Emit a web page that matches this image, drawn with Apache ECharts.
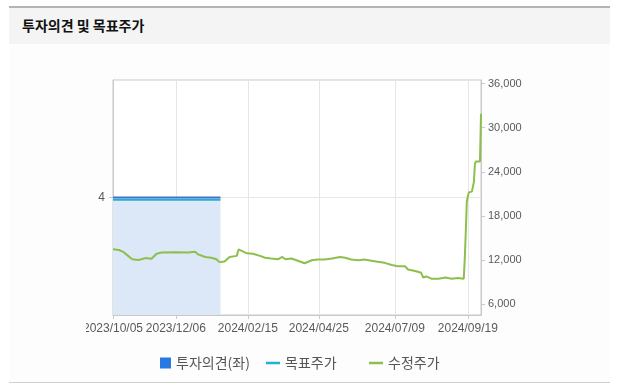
<!DOCTYPE html>
<html>
<head>
<meta charset="utf-8">
<script src="https://cdn.jsdelivr.net/npm/echarts@6/dist/echarts.min.js"></script>
<style>
  html, body { margin: 0; padding: 0; background: #ffffff; width: 625px; height: 389px; overflow: hidden; }
  #topline { position: absolute; left: 9px; top: 6px; width: 601px; height: 2px; background: #b3b3b3; }
  #header { position: absolute; left: 9px; top: 8px; width: 601px; height: 36px; background: #f4f4f4; }
  #title { position: absolute; left: 22px; top: 16px; font: bold 14px "Noto Sans CJK KR", sans-serif; color: #111; line-height: 18px; }
  #body { position: absolute; left: 9px; top: 44px; width: 601px; height: 338px; background: #fdfdfd; }
  #bottomline { position: absolute; left: 9px; top: 382px; width: 601px; height: 1px; background: #cfcfcf; }
  #chart { position: absolute; left: 86px; top: 50px; width: 474px; height: 330px; }
</style>
</head>
<body>
<div id="topline"></div>
<div id="header"></div>
<div id="title">투자의견 및 목표주가</div>
<div id="body"></div>
<div id="bottomline"></div>
<div id="chart"></div>
<script>
// ---- data ----
const xTickDates = ['2023-10-05', '2023-12-06', '2024-02-15', '2024-04-25', '2024-07-09', '2024-09-19'];
const xRange = ['2023-10-05', '2024-10-02'];
const rightTicks = [6000, 12000, 18000, 24000, 30000, 36000];
const leftTicks = [4];

const opinionDates = ['2023-10-05', '2024-01-19'];
const opinionValues = [4, 4];

const targetDates = ['2023-10-05', '2024-01-19'];
const targetValues = [20200, 20200];

const priceDates = [
  '2023-10-05','2023-10-11','2023-10-15','2023-10-19','2023-10-24','2023-10-30','2023-11-01','2023-11-06',
  '2023-11-12','2023-11-17','2023-11-22','2023-12-05','2023-12-18','2023-12-25','2023-12-28','2024-01-04',
  '2024-01-10','2024-01-15','2024-01-18','2024-01-23','2024-01-28','2024-02-04','2024-02-06','2024-02-14',
  '2024-02-20','2024-02-27','2024-03-03','2024-03-09','2024-03-16','2024-03-20','2024-03-23','2024-03-29',
  '2024-04-05','2024-04-11','2024-04-18','2024-04-24','2024-05-01','2024-05-08','2024-05-16','2024-05-21',
  '2024-05-27','2024-06-03','2024-06-09','2024-06-16','2024-06-22','2024-06-29','2024-07-06','2024-07-12',
  '2024-07-19','2024-07-22','2024-07-29','2024-08-04','2024-08-06','2024-08-09','2024-08-14','2024-08-21',
  '2024-08-28','2024-09-03','2024-09-09','2024-09-15','2024-09-16','2024-09-17','2024-09-18','2024-09-19',
  '2024-09-20','2024-09-23','2024-09-24','2024-09-25','2024-09-26','2024-09-27','2024-10-01','2024-10-02'
];
const priceValues = [
  13450, 13350, 13100, 12650, 12100, 12000, 12050, 12250,
  12150, 12850, 13000, 13050, 13000, 13100, 12750, 12400,
  12300, 12100, 11700, 11800, 12400, 12550, 13450, 12900,
  12850, 12550, 12300, 12200, 12100, 12400, 12100, 12200,
  11850, 11550, 11950, 12050, 12050, 12200, 12400, 12300,
  12050, 11950, 12050, 11900, 11750, 11600, 11300, 11150,
  11150, 10700, 10500, 10250, 9600, 9750, 9450, 9450,
  9600, 9450, 9550, 9450, 12200, 15800, 20000, 20600,
  21200, 21300, 21500, 22600, 25100, 25400, 25400, 31900
];

const seriesNames = ['투자의견(좌)', '목표주가', '수정주가'];

// ---- chart ----
const ts = s => { const p = s.split('-').map(Number); return new Date(p[0], p[1] - 1, p[2]).getTime(); };
const pad = n => (n < 10 ? '0' : '') + n;
const fmtDate = v => { const d = new Date(v); return d.getFullYear() + '/' + pad(d.getMonth() + 1) + '/' + pad(d.getDate()); };
const pairs = (ds, vs) => ds.map((d, i) => [ts(d), vs[i]]);

const chart = echarts.init(document.getElementById('chart'), null, { renderer: 'canvas' });
const labelFont = '"Liberation Sans", Arial, sans-serif';
const legendText = { color: '#555', fontSize: 14, fontFamily: '"Noto Sans CJK KR", sans-serif' };

chart.setOption({
  animation: false,
  backgroundColor: 'transparent',
  grid: { left: 27, right: 79, top: 30, bottom: 65, containLabel: false, outerBoundsMode: 'none', show: true, borderColor: '#c9c9c9', borderWidth: 1, backgroundColor: '#ffffff' },
  legend: [
    { data: [{ name: seriesNames[0], icon: 'rect', itemStyle: { color: '#2a79e2' } }], left: 69, top: 301, itemWidth: 11, itemHeight: 11, textStyle: legendText, selectedMode: false },
    { data: [{ name: seriesNames[1], icon: 'path://M0,0 L14,0 L14,2.5 L0,2.5 Z', itemStyle: { color: '#1fb2d6' } }], left: 175, top: 301, itemWidth: 14, itemHeight: 11, textStyle: legendText, selectedMode: false },
    { data: [{ name: seriesNames[2], icon: 'path://M0,0 L14,0 L14,2.5 L0,2.5 Z', itemStyle: { color: '#8cbf4b' } }], left: 278, top: 301, itemWidth: 14, itemHeight: 11, textStyle: legendText, selectedMode: false }
  ],
  xAxis: {
    type: 'value',
    min: ts(xRange[0]),
    max: ts(xRange[1]),
    axisLine: { show: true, lineStyle: { color: '#c9c9c9' } },
    axisTick: { show: true, length: 4, lineStyle: { color: '#c9c9c9' }, customValues: xTickDates.map(ts) },
    axisLabel: { customValues: xTickDates.map(ts), formatter: v => fmtDate(v), color: '#5a5a5a', fontSize: 12, fontFamily: labelFont, margin: 8, hideOverlap: false },
    splitLine: { show: true, lineStyle: { color: '#e6e6e6' } }
  },
  yAxis: [
    {
      type: 'value', position: 'left', min: 0, max: 8,
      axisLine: { show: true, lineStyle: { color: '#c9c9c9' } },
      axisTick: { show: true, length: 4, lineStyle: { color: '#c9c9c9' }, customValues: leftTicks },
      axisLabel: { customValues: leftTicks, color: '#5a5a5a', fontSize: 12, fontFamily: labelFont, margin: 8 },
      splitLine: { show: true, lineStyle: { color: '#e8e8e8' } }
    },
    {
      type: 'value', position: 'right', min: 4500, max: 36500,
      axisLine: { show: true, lineStyle: { color: '#c9c9c9' } },
      axisTick: { show: true, length: 4, lineStyle: { color: '#c9c9c9' }, customValues: rightTicks },
      axisLabel: { customValues: rightTicks, formatter: v => v.toLocaleString('en-US'), color: '#5a5a5a', fontSize: 11, fontFamily: labelFont, margin: 7 },
      splitLine: { show: false }
    }
  ],
  series: [
    {
      name: seriesNames[0], type: 'line', yAxisIndex: 0, data: pairs(opinionDates, opinionValues),
      symbol: 'none', lineStyle: { color: '#4a6fc6', width: 2 }, itemStyle: { color: '#2a79e2' },
      areaStyle: { color: '#dce8f8', opacity: 1, origin: 'start' }, z: 1
    },
    {
      name: seriesNames[1], type: 'line', yAxisIndex: 1, data: pairs(targetDates, targetValues),
      symbol: 'none', lineStyle: { color: '#1fb2d6', width: 2 }, itemStyle: { color: '#1fb2d6' }, z: 2
    },
    {
      name: seriesNames[2], type: 'line', yAxisIndex: 1, data: pairs(priceDates, priceValues),
      symbol: 'none', lineStyle: { color: '#8cbf4b', width: 2 }, itemStyle: { color: '#8cbf4b' }, z: 3
    }
  ]
});
</script>
</body>
</html>
